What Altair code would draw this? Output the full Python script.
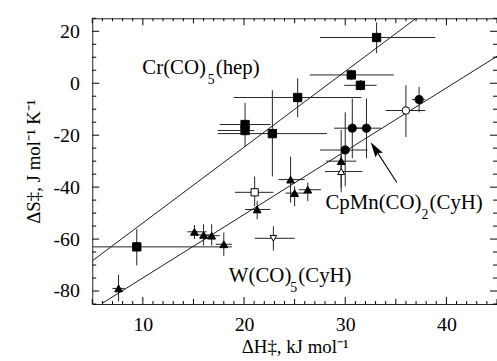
import altair as alt
import pandas as pd

# ---------------- data ----------------
# filled squares : Cr(CO)5(hep)
sq_x = [33.1, 30.6, 31.5, 25.3, 20.1, 20.1, 22.8, 9.4]
sq_y = [17.6, 3.2, -0.8, -5.5, -15.9, -18.2, -19.4, -63.0]
sq_xlo = [27.5, 26.5, 29.9, 19.0, 17.6, 17.4, 17.4, 0.0]
sq_xhi = [38.9, 34.8, 33.1, 31.6, 22.6, 21.0, 28.2, 18.8]
sq_ylo = [11.6, 1.2, -2.8, -13.1, -24.5, -20.0, -35.9, -70.1]
sq_yhi = [23.4, 5.2, 1.2, 1.9, -7.6, -16.4, -2.7, -56.2]

# filled circles : CpMn(CO)2(CyH)
ci_x = [37.3, 30.7, 32.1, 30.0]
ci_y = [-6.3, -17.3, -17.3, -25.7]
ci_xlo = [36.6, 28.9, 30.4, 27.5]
ci_xhi = [37.9, 32.4, 33.5, 32.2]
ci_ylo = [-11.2, -28.9, -28.9, -39.7]
ci_yhi = [-1.4, -5.9, -5.9, -11.2]

# filled triangles : W(CO)5(CyH)
tr_x = [29.6, 24.6, 25.0, 26.3, 21.3, 15.1, 16.0, 16.8, 18.0, 7.6]
tr_y = [-30.0, -37.1, -42.3, -41.0, -48.6, -57.2, -58.4, -58.7, -62.0, -79.0]
tr_xlo = [28.1, 23.4, 24.1, 25.4, 20.1, 14.4, 15.2, 16.0, 17.2, 7.0]
tr_xhi = [31.1, 26.0, 26.0, 27.6, 22.6, 16.3, 16.8, 17.6, 18.8, 8.2]
tr_ylo = [-42.0, -46.0, -47.3, -45.4, -52.4, -60.0, -62.5, -62.5, -66.5, -84.0]
tr_yhi = [-18.0, -28.3, -39.7, -38.2, -45.4, -54.6, -54.3, -54.3, -57.5, -73.7]

# open symbols
op_kind = ["open circle", "open square", "open triangle up", "open triangle down"]
op_x = [36.0, 21.05, 29.6, 22.9]
op_y = [-10.5, -42.0, -34.0, -59.7]
op_xlo = [34.0, 19.1, 28.0, 21.05]
op_xhi = [37.9, 22.9, 31.7, 25.0]
op_ylo = [-20.7, -47.3, -40.3, -64.4]
op_yhi = [-0.8, -35.9, -27.6, -55.1]

# fitted lines (end points)
line1_x = [5.0, 36.9]
line1_y = [-68.4, 24.7]
line2_x = [6.0, 45.0]
line2_y = [-84.7, 10.4]

# arrow (tail, head)
arrow_x = [35.1, 33.0]
arrow_y = [-38.2, -25.55]

# labels
label_main = ["Cr(CO)", "CpMn(CO)", "W(CO)"]
label_sub = ["5", "2", "5"]
label_tail = ["(hep)", "(CyH)", "(CyH)"]
label_x = [9.95, 28.04, 18.5]
label_y = [3.4, -48.6, -76.4]

x_ticks = list(range(5, 46))
y_ticks = list(range(-85, 26, 5))
x_labels = [10, 20, 30, 40]
y_labels = [-80, -60, -40, -20, 0, 20]
x_title = "ΔH‡, kJ mol⁻¹"
y_title = "ΔS‡, J mol⁻¹ K⁻¹"

# ---------------- styling ----------------
FONT = "Liberation Serif"
XDOM = [5, 45]
YDOM = [-85, 25]
W, H = 408, 288
sub_dx = [66, 97, 62]
tail_dx = [74, 105, 70]

kinds = ["square", "circle", "triangle"] + op_kind
shape_range = ["square", "circle", "triangle-up", "circle", "square", "triangle-up", "triangle-down"]
fill_range = ["black", "black", "black", "white", "white", "white", "white"]
size_range = [70, 45, 125, 110, 90, 125, 125]

rows = []
def add(kind, xs, ys, xlo, xhi, ylo, yhi):
    for i in range(len(xs)):
        k = kind[i] if isinstance(kind, list) else kind
        rows.append(dict(kind=k, x=xs[i], y=ys[i], xlo=xlo[i], xhi=xhi[i], ylo=ylo[i], yhi=yhi[i]))

add("square", sq_x, sq_y, sq_xlo, sq_xhi, sq_ylo, sq_yhi)
add("circle", ci_x, ci_y, ci_xlo, ci_xhi, ci_ylo, ci_yhi)
add("triangle", tr_x, tr_y, tr_xlo, tr_xhi, tr_ylo, tr_yhi)
add(op_kind, op_x, op_y, op_xlo, op_xhi, op_ylo, op_yhi)
pts = pd.DataFrame(rows)

xscale = alt.Scale(domain=XDOM, nice=False, zero=False)
yscale = alt.Scale(domain=YDOM, nice=False, zero=False)

main_x_axis = alt.Axis(orient="bottom", values=x_labels, ticks=False, domain=False, grid=False,
                       labelExpr="'' + datum.value", labelOverlap=False, labelFlush=False,
                       labelFont=FONT, labelFontSize=20, labelColor="black", labelPadding=11,
                       title=x_title, titleFont=FONT, titleFontSize=19, titleFontWeight="normal",
                       titleColor="black", titlePadding=3)
main_y_axis = alt.Axis(orient="left", values=y_labels, ticks=False, domain=False, grid=False,
                       labelExpr="'' + datum.value", labelOverlap=False, labelFlush=False,
                       labelFont=FONT, labelFontSize=20, labelColor="black", labelPadding=13,
                       title=y_title, titleFont=FONT, titleFontSize=19, titleFontWeight="normal",
                       titleColor="black", titlePadding=10)


# only the marker layer carries the axes; every other layer draws through the same scales
def X(field):
    return alt.X(field, type="quantitative", scale=xscale, axis=None)


def Y(field):
    return alt.Y(field, type="quantitative", scale=yscale, axis=None)


lines_df = pd.DataFrame({
    "x": line1_x + line2_x,
    "y": line1_y + line2_y,
    "line": ["a", "a", "b", "b"],
})
lines = alt.Chart(lines_df).mark_line(color="black", strokeWidth=0.9, clip=True).encode(
    x=X("x"), y=Y("y"), detail="line:N")

errx = alt.Chart(pts).mark_rule(color="#222", strokeWidth=1, clip=True).encode(
    x=X("xlo"), x2="xhi", y=Y("y"))
erry = alt.Chart(pts).mark_rule(color="#222", strokeWidth=1, clip=True).encode(
    x=X("x"), y=Y("ylo"), y2="yhi")

points = alt.Chart(pts).mark_point(filled=False, stroke="black", strokeWidth=1, opacity=1).encode(
    x=alt.X("x", type="quantitative", scale=xscale, axis=main_x_axis),
    y=alt.Y("y", type="quantitative", scale=yscale, axis=main_y_axis),
    shape=alt.Shape("kind:N", scale=alt.Scale(domain=kinds, range=shape_range), legend=None),
    fill=alt.Fill("kind:N", scale=alt.Scale(domain=kinds, range=fill_range), legend=None),
    size=alt.Size("kind:N", scale=alt.Scale(domain=kinds, range=size_range), legend=None),
)

arrow_df = pd.DataFrame({"x": arrow_x, "y": arrow_y})
arrow_line = alt.Chart(arrow_df).mark_line(color="black", strokeWidth=1.1).encode(
    x=X("x"), y=Y("y"))
arrow_head = alt.Chart(arrow_df.iloc[[1]]).mark_point(
    shape="M0,-1L0.5,0.75L0,0.45L-0.5,0.75Z", filled=True, color="black",
    size=320, angle=327, opacity=1).encode(x=X("x"), y=Y("y"))

text_layers = []
lab_df = pd.DataFrame({"x": label_x, "y": label_y, "main": label_main,
                       "sub": label_sub, "tail": label_tail})
for i in range(len(label_main)):
    d = lab_df.iloc[[i]]
    text_layers.append(alt.Chart(d).mark_text(
        align="left", baseline="alphabetic", font=FONT, fontSize=21, color="black").encode(
        x=X("x"), y=Y("y"), text="main:N"))
    text_layers.append(alt.Chart(d).mark_text(
        align="left", baseline="alphabetic", font=FONT, fontSize=14, color="black",
        dx=sub_dx[i], dy=10).encode(x=X("x"), y=Y("y"), text="sub:N"))
    text_layers.append(alt.Chart(d).mark_text(
        align="left", baseline="alphabetic", font=FONT, fontSize=21, color="black",
        dx=tail_dx[i]).encode(x=X("x"), y=Y("y"), text="tail:N"))

# ---- inward tick marks on all four sides ----
x_major = [v for v in x_ticks if v % 10 == 0]
x_mid = [v for v in x_ticks if v % 5 == 0 and v % 10 != 0]
x_minor = [v for v in x_ticks if v % 5 != 0]
y_major = [v for v in y_ticks if v % 20 == 0]
y_minor = [v for v in y_ticks if v % 20 != 0]

tick_layers = []
for vals, L in [(x_major, 7), (x_mid, 5), (x_minor, 3)]:
    d = pd.DataFrame({"v": vals})
    enc_x = alt.X("v:Q", scale=xscale, axis=None)
    tick_layers.append(alt.Chart(d).mark_rule(color="black", strokeWidth=1).encode(
        x=enc_x, y=alt.value(H), y2=alt.value(H - L)))
    tick_layers.append(alt.Chart(d).mark_rule(color="black", strokeWidth=1).encode(
        x=enc_x, y=alt.value(0), y2=alt.value(L)))
for vals, L in [(y_major, 7), (y_minor, 4)]:
    d = pd.DataFrame({"v": vals})
    enc_y = alt.Y("v:Q", scale=yscale, axis=None)
    tick_layers.append(alt.Chart(d).mark_rule(color="black", strokeWidth=1).encode(
        y=enc_y, x=alt.value(0), x2=alt.value(L)))
    tick_layers.append(alt.Chart(d).mark_rule(color="black", strokeWidth=1).encode(
        y=enc_y, x=alt.value(W), x2=alt.value(W - L)))

chart = alt.layer(lines, errx, erry, arrow_line, arrow_head, points, *text_layers,
                  *tick_layers).resolve_axis(x="independent", y="independent").properties(
    width=W, height=H,
    padding={"left": 93, "top": 17, "right": 0, "bottom": 56},
    autosize=alt.AutoSizeParams(type="none"),
    background="white",
).configure_view(stroke="#222", strokeWidth=1)

chart.save("out.html", embed_options={"renderer": "svg", "actions": False})
